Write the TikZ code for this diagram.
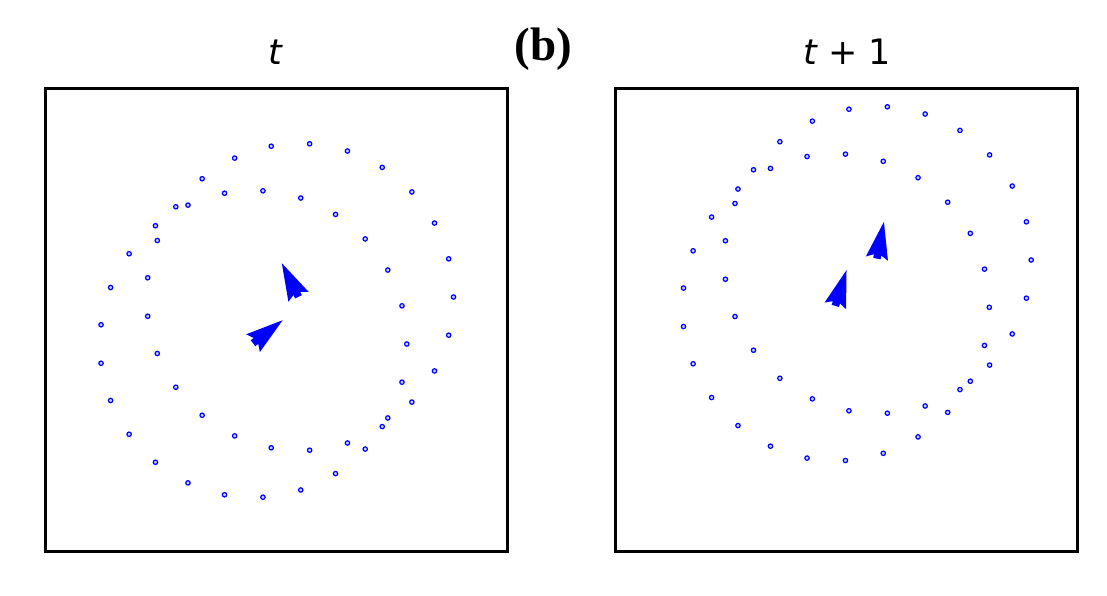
\documentclass[tikz,border=0pt]{standalone}
\usepackage{fontspec}
\setmainfont{Liberation Serif}
\newfontfamily\dejavu{DejaVu Sans}
\begin{document}
\begin{tikzpicture}[x=1pt,y=-1pt,
  frame/.style={draw=black,line width=3pt},
  dotmark/.style={draw=blue,fill=blue!20,line width=1.2pt},
  arrowhead/.style={fill=blue,draw=none},
  ttl/.style={anchor=base,inner sep=0pt,font=\dejavu\fontsize{35}{40}\selectfont},
  lbl/.style={anchor=base,inner sep=0pt,font=\bfseries\fontsize{47}{52}\selectfont}]
\useasboundingbox[fill=white] (0,0) rectangle (1107,596);
% frames
\draw[frame] (45,89) rectangle (507,551);
\draw[frame] (615,89) rectangle (1077,551);
% titles
\node[ttl] (tl) at (275,65) {\itshape t};
\node[ttl] (tr) at (847,65) {{\itshape t} + 1};
\node[lbl] (b) at (543.5,60.5) {(b)};
% rings of dots
\foreach \cx/\cy in {300/297, 253.3/344, 877.7/260, 835.8/307.3}{
  \foreach \k in {0,...,24}{
    \path[dotmark] ({\cx+153.5*cos(14.4*\k)},{\cy+153.5*sin(14.4*\k)}) circle[radius=2.2pt];
  }
}
% arrows (quiver style)
\foreach \tx/\ty/\ang in {298.5/296.8/116.4, 253/343.2/37.8, 876.9/258.6/79.2, 835.3/305.9/72.6}{
  \begin{scope}[shift={(\tx,\ty)},rotate=\ang,x=1pt,y=1pt]
    \fill[arrowhead] (0,3.75) -- (3.75,3.75) -- (0,11.25) -- (37.5,0) -- (0,-11.25) -- (3.75,-3.75) -- (0,-3.75) -- cycle;
  \end{scope}
}
\end{tikzpicture}
\end{document}
